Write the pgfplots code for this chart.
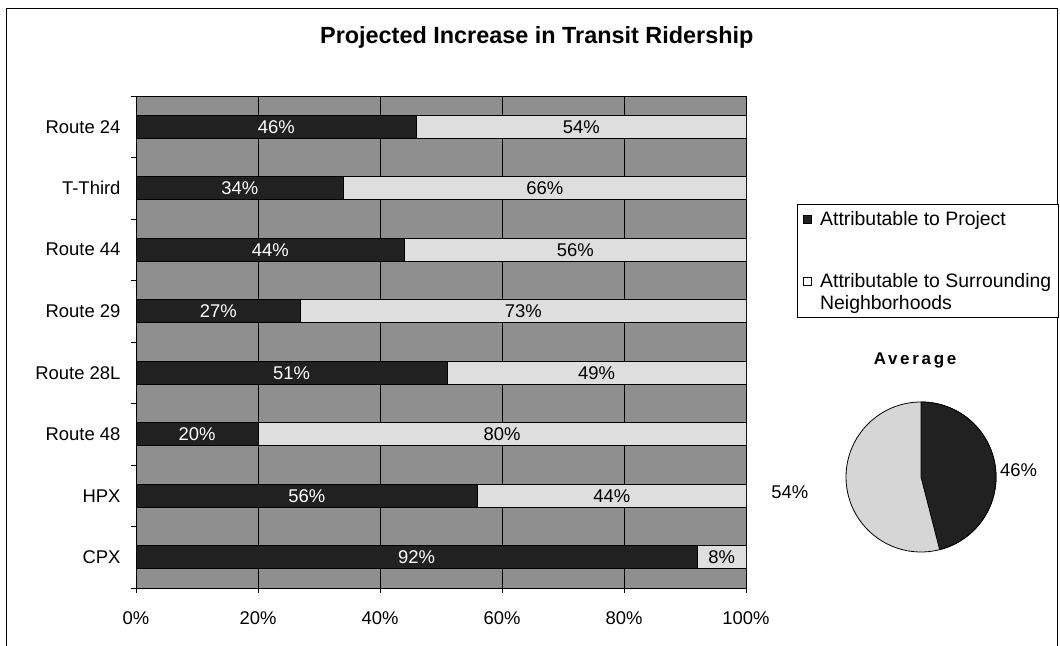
\documentclass[border=0pt]{standalone}
\usepackage{fontspec}
\setmainfont{Liberation Sans}
\newfontfamily\spacedbold[LetterSpace=16]{Liberation Sans}
\usepackage{pgfplots}
\pgfplotsset{compat=1.18}
\definecolor{bgc}{gray}{0.56}
\definecolor{darkbar}{gray}{0.13}
\definecolor{lightbar}{gray}{0.87}
\definecolor{lightpie}{gray}{0.84}
\begin{document}
\begin{tikzpicture}[x=1bp,y=1bp]
\useasboundingbox (0,0) rectangle (1060,646);
\draw[line width=0.8bp] (6,-5) -- (6,638) -- (1057,638) -- (1057,-5);

\begin{axis}[
  at={(136bp,58bp)}, anchor=south west,
  scale only axis, width=610bp, height=492bp,
  xbar stacked, bar width=0.374,
  xmin=0, xmax=100, ymin=-0.5, ymax=7.5,
  axis background/.style={fill=bgc},
  axis line style={black, line width=0.8bp},
  xtick={0,20,40,60,80,100},
  xticklabels={0\%,20\%,40\%,60\%,80\%,100\%},
  xmajorgrids, grid style={black, line width=0.6bp},
  ytick={-0.5,0.5,...,7.5}, yticklabels={},
  extra y ticks={0,1,2,3,4,5,6,7},
  extra y tick labels={CPX,HPX,Route 48,Route 28L,Route 29,Route 44,T-Third,Route 24},
  extra y tick style={major tick length=0pt, yticklabel style={xshift=-12bp}},
  tick align=outside, tick pos=left, major tick length=5bp,
  tick style={black, line width=0.6bp},
  tick label style={font=\fontsize{18.5}{21}\selectfont},
  xticklabel style={yshift=-15bp},
  title={\bfseries Projected Increase in Transit Ridership},
  title style={at={(0.657,1)}, anchor=center, yshift=53bp, font=\fontsize{23.5}{26}\selectfont},
  legend style={at={(1.084,0.780)}, anchor=north west, draw=black, line width=0.6bp,
    font=\fontsize{19.5}{22}\selectfont, cells={anchor=west, align=left},
    row sep=42bp, inner sep=5bp, fill=white},
  legend cell align=left,
]
\addplot[fill=darkbar, draw=black, line width=0.6bp,
  legend image code/.code={\draw[fill=darkbar, draw=black, line width=0.6bp] (4bp,-4bp) rectangle (12bp,4bp); \path (19bp,0bp);}]
  coordinates {(92,0) (56,1) (20,2) (51,3) (27,4) (44,5) (34,6) (46,7)};
\addplot[fill=lightbar, draw=black, line width=0.6bp,
  legend image code/.code={\draw[fill=white, draw=black, line width=0.6bp] (4bp,7bp) rectangle (12bp,15bp); \path (19bp,0bp);}]
  coordinates {(8,0) (44,1) (80,2) (49,3) (73,4) (56,5) (66,6) (54,7)};
\legend{Attributable to Project, {Attributable to Surrounding\\Neighborhoods}}
\end{axis}

\begin{axis}[
  at={(136bp,58bp)}, anchor=south west,
  scale only axis, width=610bp, height=492bp,
  xmin=0, xmax=100, ymin=-0.5, ymax=7.5, hide axis,
  point meta=explicit symbolic,
  nodes near coords={\pgfplotspointmeta\%},
  every node near coord/.append style={anchor=center, font=\fontsize{18.5}{21}\selectfont},
]
\addplot[draw=none, every node near coord/.append style={text=white}] table[meta=v] {
x y v
46 0 92
28 1 56
10 2 20
25.5 3 51
13.5 4 27
22 5 44
17 6 34
23 7 46
};
\addplot[draw=none, every node near coord/.append style={text=black}] table[meta=v] {
x y v
96 0 8
78 1 44
60 2 80
75.5 3 49
63.5 4 73
72 5 56
67 6 66
73 7 54
};
\end{axis}

\begin{axis}[
  at={(921bp,169bp)}, anchor=center,
  scale only axis, width=150bp, height=150bp,
  xmin=-1, xmax=1, ymin=-1, ymax=1, hide axis,
  title={\spacedbold\bfseries Average},
  title style={at={(0.46,1)}, anchor=center, yshift=36bp, font=\fontsize{17}{20}\selectfont},
  clip=false,
]
\pgfmathsetmacro\avgA{46}
\filldraw[fill=lightpie, draw=black, line width=0.8bp] (axis cs:0,0) circle[radius=75bp];
\filldraw[fill=darkbar, draw=black, line width=0.8bp] (axis cs:0,0) -- (axis cs:0,1)
   arc[start angle=90, end angle={90-3.6*\avgA}, radius=75bp] -- cycle;
\node[font=\fontsize{18.5}{21}\selectfont] at (axis cs:1.3,0.09) {46\%};
\node[font=\fontsize{18.5}{21}\selectfont] at (axis cs:-1.75,-0.2) {54\%};
\end{axis}
\end{tikzpicture}
\end{document}
